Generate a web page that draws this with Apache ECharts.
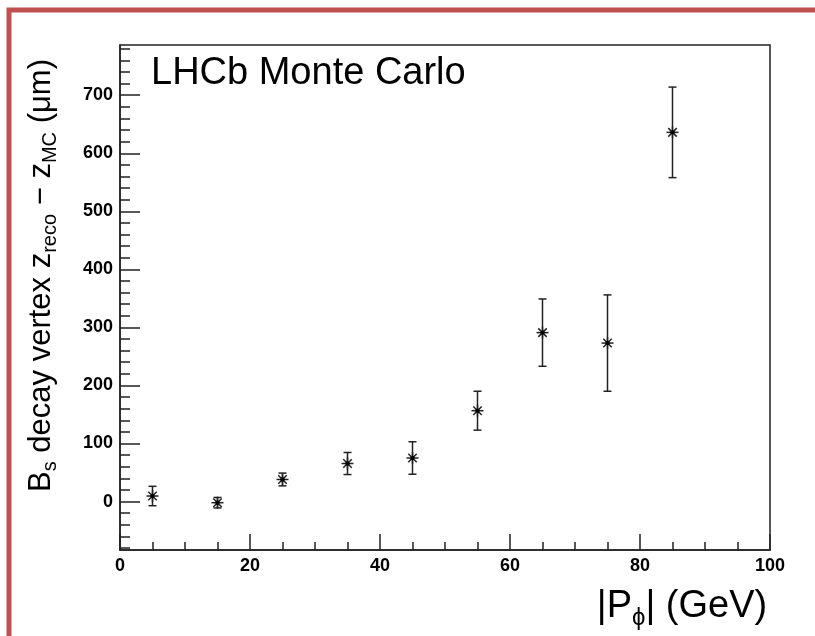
<!DOCTYPE html>
<html>
<head>
<meta charset="utf-8">
<script src="https://cdn.jsdelivr.net/npm/echarts@6/dist/echarts.min.js"></script>
<style>
  html, body { margin: 0; padding: 0; background: #fff; }
  #chart { width: 815px; height: 636px; }
</style>
</head>
<body>
<div id="chart"></div>
<script>
// ---------------------------------------------------------------- data
var pBins = [5, 15, 25, 35, 45, 55, 65, 75, 85];          // |P_phi| bin centres (GeV)
var dz    = [9.5, -2, 38, 65.5, 75, 156.5, 291, 273, 636]; // z_reco - z_MC (um)
var dzErr = [16.7, 9, 11, 19, 28, 33.5, 58, 83, 78];      // error on dz

var xTicks = [0, 20, 40, 60, 80, 100];
var yTicks = [0, 100, 200, 300, 400, 500, 600, 700];
var yMin = -83.5, yMax = 786.5;

// minor ticks on y every 20
var yMinor = [];
for (var v = -80; v <= 780; v += 20) {
    if (v % 100 !== 0) yMinor.push(v);
}

var points = pBins.map(function (x, i) {
    return [x, dz[i], dz[i] - dzErr[i], dz[i] + dzErr[i]];
});

// ---------------------------------------------------------------- draw
var chart = echarts.init(document.getElementById('chart'));
var ink = '#222';
var font = 'Liberation Sans, Arial, Helvetica, sans-serif';

function renderPoint(params, api) {
    var c  = api.coord([api.value(0), api.value(1)]);
    var lo = api.coord([api.value(0), api.value(2)]);
    var hi = api.coord([api.value(0), api.value(3)]);
    var r = 6, cap = 4, d = r * 0.707;
    var ls = { stroke: ink, lineWidth: 1.5 };
    var line = function (x1, y1, x2, y2) {
        return { type: 'line', shape: { x1: x1, y1: y1, x2: x2, y2: y2 }, style: ls };
    };
    return {
        type: 'group',
        children: [
            line(c[0], lo[1], c[0], hi[1]),
            line(c[0] - cap, lo[1], c[0] + cap, lo[1]),
            line(c[0] - cap, hi[1], c[0] + cap, hi[1]),
            line(c[0] - r, c[1], c[0] + r, c[1]),
            line(c[0], c[1] - r, c[0], c[1] + r),
            line(c[0] - d, c[1] - d, c[0] + d, c[1] + d),
            line(c[0] - d, c[1] + d, c[0] + d, c[1] - d),
            { type: 'circle', shape: { cx: c[0], cy: c[1], r: 2.2 }, style: { fill: '#000' } }
        ]
    };
}

var option = {
    backgroundColor: '#fff',
    animation: false,
    title: {
        text: 'LHCb Monte Carlo',
        left: 146,
        top: 50,
        textStyle: { fontFamily: font, fontSize: 38, fontWeight: 'normal', color: '#000' }
    },
    graphic: [{
        type: 'rect',
        silent: true,
        shape: { x: 9, y: 10, width: 1000, height: 1000 },
        style: { fill: 'none', stroke: '#c0504d', lineWidth: 5 }
    }],
    grid: {
        left: 120, right: 45, top: 45, bottom: 86,
        outerBoundsMode: 'none',
        containLabel: false,
        show: true, borderColor: ink, borderWidth: 1.5, backgroundColor: 'transparent'
    },
    xAxis: {
        type: 'value',
        min: 0, max: 100, interval: 20,
        name: '|P{s|\u03d5}| (GeV)',
        nameLocation: 'middle',
        nameGap: 34,
        nameTextStyle: {
            fontFamily: font, fontSize: 38, color: '#000',
            padding: [0, 0, 0, 474],
            rich: { s: { fontFamily: font, fontSize: 24, color: '#000', verticalAlign: 'bottom', padding: [22, 0, 0, 0] } }
        },
        axisLine: { show: true, onZero: false, lineStyle: { color: ink, width: 1.5 } },
        axisTick: { show: true, inside: true, length: 16, lineStyle: { color: ink, width: 1.5 } },
        minorTick: { show: true, splitNumber: 4, length: 8, lineStyle: { color: ink, width: 1.5 } },
        axisLabel: {
            margin: 7, fontFamily: font, fontSize: 18, fontWeight: 'bold', color: '#000',
            customValues: xTicks
        },
        splitLine: { show: false }
    },
    yAxis: [{
        type: 'value',
        min: yMin, max: yMax,
        name: 'B{s|s} decay vertex z{s|reco} \u2212 z{s|MC} (\u03bcm)',
        nameLocation: 'middle',
        nameRotate: 90,
        nameGap: 60,
        nameTextStyle: {
            fontFamily: font, fontSize: 31, color: '#000',
            padding: [0, 0, 0, 44],
            rich: { s: { fontFamily: font, fontSize: 20, color: '#000', verticalAlign: 'bottom', padding: [18, 0, 0, 0] } }
        },
        axisLine: { show: true, onZero: false, lineStyle: { color: ink, width: 1.5 } },
        axisTick: { show: true, inside: true, length: 20, customValues: yTicks, lineStyle: { color: ink, width: 1.5 } },
        axisLabel: {
            margin: 7, fontFamily: font, fontSize: 18, fontWeight: 'bold', color: '#000',
            customValues: yTicks
        },
        splitLine: { show: false }
    }, {
        type: 'value',
        min: yMin, max: yMax,
        position: 'left',
        offset: 0,
        axisLine: { show: false, onZero: false },
        axisTick: { show: true, inside: true, length: 10, customValues: yMinor, lineStyle: { color: ink, width: 1.5 } },
        axisLabel: { show: false },
        splitLine: { show: false }
    }],
    series: [{
        type: 'custom',
        name: 'dz',
        renderItem: renderPoint,
        encode: { x: 0, y: [1, 2, 3] },
        data: points,
        z: 10
    }]
};

chart.setOption(option);
</script>
</body>
</html>
